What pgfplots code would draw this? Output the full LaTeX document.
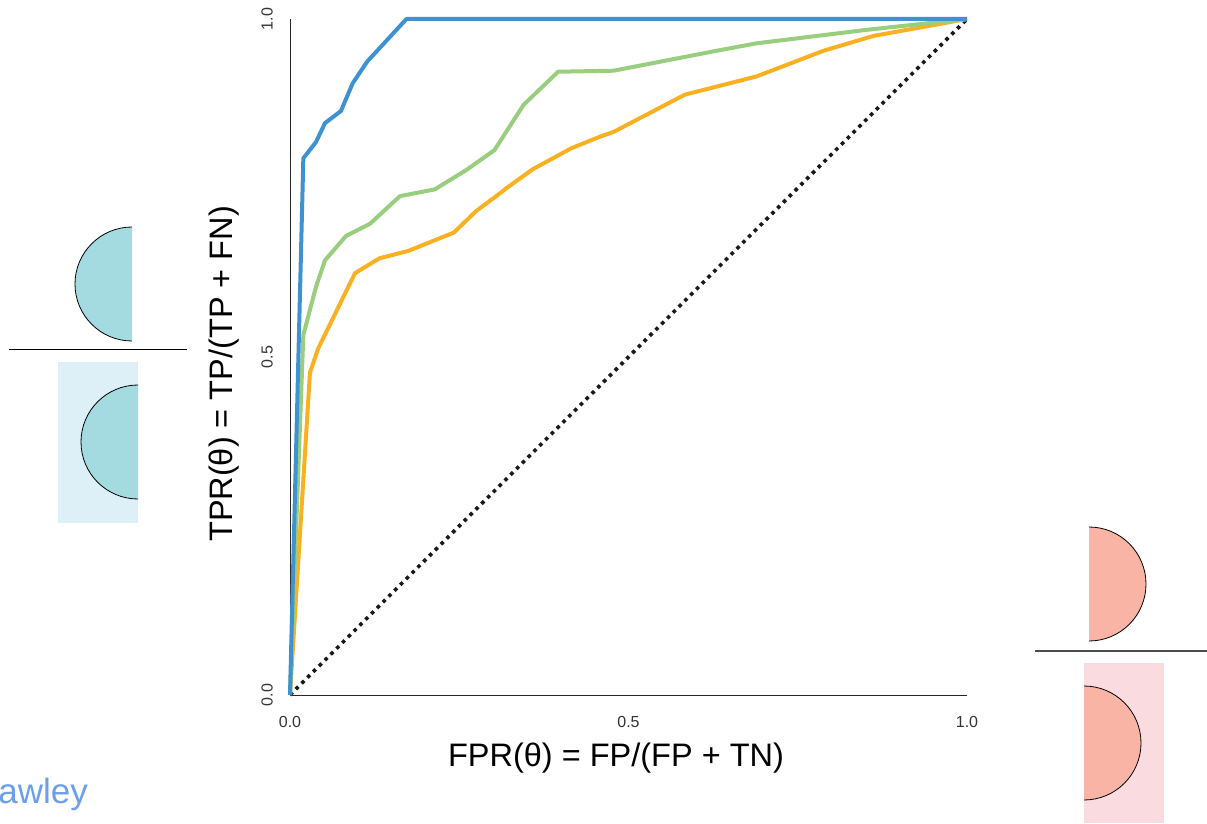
\documentclass[border=0pt]{standalone}
\usepackage{pgfplots}
\pgfplotsset{compat=1.18}
\usepackage{fontspec}
\setmainfont{Liberation Sans}
\definecolor{cblue}{RGB}{62,146,207}
\definecolor{cgreen}{RGB}{152,206,126}
\definecolor{corange}{RGB}{251,176,33}
\definecolor{cteal}{RGB}{164,219,224}
\definecolor{clightblue}{RGB}{221,240,247}
\definecolor{csalmon}{RGB}{249,180,166}
\definecolor{cpink}{RGB}{250,219,224}
\definecolor{ctext}{RGB}{107,159,234}
\begin{document}
\begin{tikzpicture}
\clip (0pt,0pt) rectangle (1207pt,823pt);
\begin{scope}[x=1pt,y=1pt]
% decorations left
\fill[cteal] (132,596) arc[start angle=90,end angle=270,radius=57] -- cycle;
\draw[line width=0.8pt] (132,596) arc[start angle=90,end angle=270,radius=57];
\draw[line width=1pt] (9,473) -- (187,473);
\fill[clightblue] (58,300) rectangle (138,461);
\fill[cteal] (138,438) arc[start angle=90,end angle=270,radius=57] -- cycle;
\draw[line width=0.8pt] (138,438) arc[start angle=90,end angle=270,radius=57];
% decorations right
\fill[csalmon] (1089,182) arc[start angle=-90,end angle=90,radius=57] -- cycle;
\draw[line width=0.8pt] (1089,182) arc[start angle=-90,end angle=90,radius=57];
\draw[line width=1.2pt,black!70] (1035,172) -- (1207,172);
\fill[cpink] (1084,0) rectangle (1164,160);
\fill[csalmon] (1084,23) arc[start angle=-90,end angle=90,radius=57] -- cycle;
\draw[line width=0.8pt] (1084,23) arc[start angle=-90,end angle=90,radius=57];
\node[anchor=base east,inner sep=0pt,text=ctext,font=\fontsize{35}{40}\selectfont] at (88,20) {awley};
\end{scope}
\begin{axis}[
  at={(290pt,128pt)}, anchor=south west,
  scale only axis, width=677pt, height=676pt,
  xmin=0, xmax=1, ymin=0, ymax=1,
  clip=false,
  axis x line*=bottom, axis y line*=left,
  axis line style={-, line width=1pt, black!85},
  xtick={0,0.5,1}, ytick={0,0.5,1},
  xticklabels={0.0,0.5,1.0}, yticklabels={0.0,0.5,1.0},
  major tick length=0pt,
  tick label style={font=\fontsize{16}{18}\selectfont, text=black!80, inner sep=0pt},
  xticklabel style={anchor=north}, xticklabel shift=21pt,
  yticklabel style={rotate=90, anchor=south}, yticklabel shift=17pt,
  xlabel={FPR(θ) = FP/(FP + TN)},
  ylabel={TPR(θ) = TP/(TP + FN)},
  label style={font=\fontsize{32.5}{36}\selectfont, inner sep=0pt},
  xlabel style={at={(axis description cs:0.4815,-0.106)}, anchor=base},
  ylabel style={at={(axis description cs:-0.0842,0.475)}, anchor=base},
]
\addplot[black!90, line width=3.6pt, dash pattern=on 3.6pt off 4.6pt] coordinates {(0,0) (1,1)};
\addplot[corange, line width=4pt, line join=round] coordinates {
(0,0) (0.0295,0.477) (0.0418,0.513) (0.096,0.624) (0.132,0.646) (0.175,0.657)
(0.212,0.672) (0.242,0.684) (0.275,0.716) (0.310,0.742) (0.320,0.750) (0.359,0.778)
(0.416,0.809) (0.458,0.826) (0.478,0.833) (0.583,0.888) (0.689,0.915) (0.788,0.953)
(0.862,0.975) (1,1)};
\addplot[cgreen, line width=4pt, line join=round] coordinates {
(0,0) (0.0197,0.5325) (0.0384,0.604) (0.0517,0.643) (0.0827,0.679) (0.118,0.697)
(0.1625,0.738) (0.214,0.748) (0.261,0.777) (0.302,0.806) (0.345,0.873) (0.396,0.922)
(0.478,0.9235) (0.625,0.952) (0.689,0.964) (0.852,0.984) (1,1)};
\addplot[cblue, line width=4pt, line join=round] coordinates {
(0,0) (0.0197,0.794) (0.0384,0.818) (0.0517,0.846) (0.0753,0.864) (0.0926,0.905)
(0.114,0.937) (0.172,1) (1,1)};
\end{axis}
\end{tikzpicture}
\end{document}
